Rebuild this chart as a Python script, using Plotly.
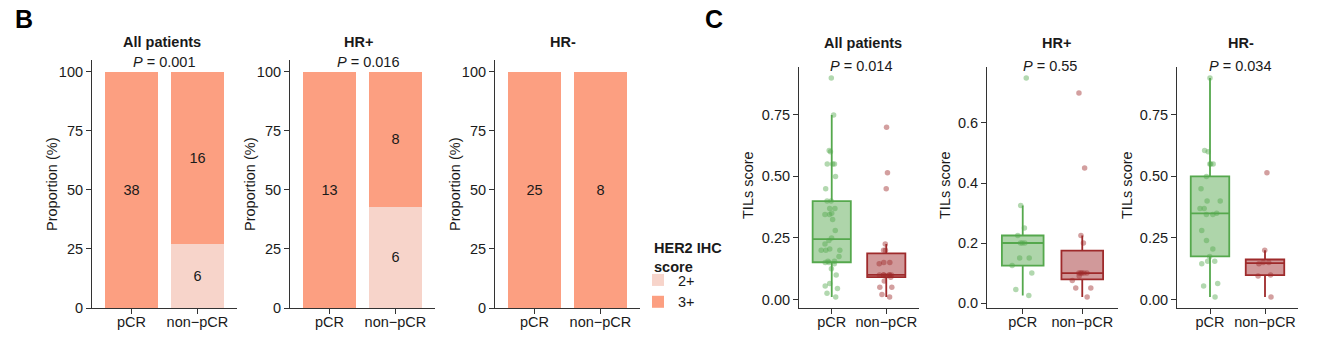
import numpy as np
import plotly.graph_objects as go

W, H = 1327, 340
FONT = "Liberation Sans, Arial, sans-serif"
TXT = "#1a1a1a"
AX = "#333333"

# ---------------- data ----------------
groups = ["pCR", "non\u2212pCR"]
her2_levels = ["2+", "3+"]
panel_names = ["All patients", "HR+", "HR-"]

# Panel B: patient counts per HER2 IHC score (pCR, non-pCR)
all_2plus = [0, 6]
all_3plus = [38, 16]
hrpos_2plus = [0, 6]
hrpos_3plus = [13, 8]
hrneg_2plus = [0, 0]
hrneg_3plus = [25, 8]
bar_pvalues = ["0.001", "0.016", None]

# Panel C: TILs scores
hrpos_pcr = [0.75, 0.325, 0.25, 0.225, 0.20, 0.20, 0.20, 0.15, 0.15, 0.125, 0.10, 0.045, 0.025]
hrpos_nonpcr = [0.70, 0.45, 0.225, 0.20, 0.10, 0.10, 0.10, 0.10, 0.10, 0.09, 0.075, 0.05, 0.05, 0.02]
hrneg_pcr = [0.90, 0.605, 0.60, 0.55, 0.55, 0.55, 0.50, 0.45, 0.40, 0.40, 0.37, 0.37, 0.35,
             0.345, 0.345, 0.28, 0.24, 0.205, 0.175, 0.155, 0.155, 0.145, 0.065, 0.055, 0.01]
hrneg_nonpcr = [0.515, 0.20, 0.15, 0.15, 0.145, 0.10, 0.095, 0.01]
all_pcr = hrpos_pcr + hrneg_pcr
all_nonpcr = hrpos_nonpcr + hrneg_nonpcr
box_pvalues = ["0.014", "0.55", "0.034"]

# ---------------- styles ----------------
col_2plus = "#F7D4CA"
col_3plus = "#FC9F81"
box_line = ["#55A84D", "#9E2A2B"]
box_fill = ["rgba(85,168,77,0.48)", "rgba(158,42,43,0.48)"]
pt_col = ["rgba(85,168,77,0.45)", "rgba(158,42,43,0.45)"]

# layout geometry in pixels
bar_x = [(92, 237), (290, 435), (495, 640)]
box_x = [(799, 919), (987, 1118), (1177, 1298)]
bar_top, box_top, bottom = 60, 67, 308
title_cx = [162, 358, 563, 863, 1056, 1241]
p_cx = [164, 368, None, 861, 1050, 1240]
ytitle_off = [40, 40, 40, 51, 42, 50]


def px_x(p):
    return p / W


def px_y(p):
    return 1 - p / H


fig = go.Figure()

bar_sets = [(all_2plus, all_3plus), (hrpos_2plus, hrpos_3plus), (hrneg_2plus, hrneg_3plus)]
for i, (c2, c3) in enumerate(bar_sets):
    ax = "" if i == 0 else str(i + 1)
    tot = [a + b for a, b in zip(c2, c3)]
    for lvl, cnt, col in [("2+", c2, col_2plus), ("3+", c3, col_3plus)]:
        fig.add_trace(go.Bar(
            x=groups, y=[100 * c / t for c, t in zip(cnt, tot)],
            text=[str(c) if c > 0 else "" for c in cnt],
            textposition="inside", insidetextanchor="middle", textangle=0,
            textfont=dict(size=14.5, color=TXT, family=FONT),
            marker=dict(color=col, line=dict(width=0)), width=0.8,
            name=lvl, legendgroup=lvl, showlegend=(i == 0),
            xaxis="x" + ax, yaxis="y" + ax, hoverinfo="skip"))


def box_stats(v):
    v = np.sort(np.asarray(v, dtype=float))
    q1, med, q3 = np.percentile(v, [25, 50, 75])
    iqr = q3 - q1
    lo = v[v >= q1 - 1.5 * iqr].min()
    hi = v[v <= q3 + 1.5 * iqr].max()
    return q1, med, q3, lo, hi


box_sets = [(all_pcr, all_nonpcr), (hrpos_pcr, hrpos_nonpcr), (hrneg_pcr, hrneg_nonpcr)]
for i, sets in enumerate(box_sets):
    ax = str(i + 4)
    for g, vals in enumerate(sets):
        q1, med, q3, lo, hi = box_stats(vals)
        fig.add_trace(go.Box(
            x=[groups[g]], q1=[q1], median=[med], q3=[q3], lowerfence=[lo], upperfence=[hi],
            width=0.7, whiskerwidth=0, fillcolor=box_fill[g],
            line=dict(color=box_line[g], width=1.8),
            boxpoints=False, showlegend=False, xaxis="x" + ax, yaxis="y" + ax, hoverinfo="skip"))
        fig.add_trace(go.Box(
            x=[groups[g]] * len(vals), y=vals, boxpoints="all", jitter=0.6, pointpos=0,
            width=0.7, whiskerwidth=0, fillcolor="rgba(0,0,0,0)",
            line=dict(width=0, color="rgba(0,0,0,0)"),
            marker=dict(color=pt_col[g], size=5.5, line=dict(width=0)),
            showlegend=False, xaxis="x" + ax, yaxis="y" + ax, hoverinfo="skip"))

axis_common = dict(showline=True, linecolor=AX, linewidth=1.1, ticks="outside", ticklen=5,
                   tickwidth=1.1, tickcolor=AX, showgrid=False, zeroline=False, automargin=False,
                   tickfont=dict(size=14.5, color=TXT, family=FONT))

layout = dict(width=W, height=H, margin=dict(l=0, r=0, t=0, b=0, autoexpand=False),
              paper_bgcolor="white", plot_bgcolor="white",
              barmode="stack", boxmode="overlay",
              font=dict(family=FONT, color=TXT, size=14.5))

annotations = []
all_x = bar_x + box_x
for k in range(6):
    s = "" if k == 0 else str(k + 1)
    l, r = all_x[k]
    top = bar_top if k < 3 else box_top
    layout["xaxis" + s] = dict(axis_common, domain=[px_x(l), px_x(r)], anchor="y" + s,
                               type="category", categoryorder="array", categoryarray=groups,
                               range=[-0.6, 1.6], ticklabelstandoff=-4)
    ydom = [px_y(bottom), px_y(top)]
    if k < 3:
        layout["yaxis" + s] = dict(axis_common, domain=ydom, anchor="x" + s, range=[0, 105],
                                   tickvals=[0, 25, 50, 75, 100])
    else:
        sets = box_sets[k - 3]
        allv = np.array(sets[0] + sets[1])
        rng = allv.max() - allv.min()
        yr = [allv.min() - 0.05 * rng, allv.max() + 0.05 * rng]
        if k == 4:
            tv, tf = [0, 0.2, 0.4, 0.6], ".1f"
        else:
            tv, tf = [0, 0.25, 0.5, 0.75], ".2f"
        layout["yaxis" + s] = dict(axis_common, domain=ydom, anchor="x" + s, range=yr,
                                   tickvals=tv, tickformat=tf)

    # panel title
    title_y = 42 if k < 3 else 43
    annotations.append(dict(text="<b>%s</b>" % panel_names[k % 3], x=px_x(title_cx[k]),
                            y=px_y(title_y), xref="paper", yref="paper", showarrow=False,
                            xanchor="center", yanchor="middle",
                            font=dict(size=14.5, color=TXT, family=FONT)))
    pv = bar_pvalues[k] if k < 3 else box_pvalues[k - 3]
    if pv:
        p_y = 62 if k < 3 else 66
        annotations.append(dict(text="<i>P</i> = %s" % pv, x=px_x(p_cx[k]), y=px_y(p_y),
                                xref="paper", yref="paper", showarrow=False, xanchor="center",
                                yanchor="middle", font=dict(size=14.5, color=TXT, family=FONT)))
    # y-axis title
    ytitle = "Proportion (%)" if k < 3 else "TILs score"
    annotations.append(dict(text=ytitle, x=px_x(l - ytitle_off[k]), y=px_y(185), textangle=-90,
                            xref="paper", yref="paper", showarrow=False, xanchor="center",
                            yanchor="middle", font=dict(size=14.5, color=TXT, family=FONT)))

for lab, xp in [("B", 24), ("C", 714)]:
    annotations.append(dict(text="<b>%s</b>" % lab, x=px_x(xp), y=px_y(19), xref="paper",
                            yref="paper", showarrow=False, xanchor="center", yanchor="middle",
                            font=dict(size=25, color="#000000", family=FONT)))

# legend title
annotations.append(dict(text="<b>HER2 IHC<br>score</b>", x=px_x(652), y=px_y(257),
                        xref="paper", yref="paper", showarrow=False, xanchor="left",
                        yanchor="middle", align="left",
                        font=dict(size=14.5, color=TXT, family=FONT)))

layout["annotations"] = annotations
layout["legend"] = dict(x=px_x(638), y=px_y(264), xanchor="left", yanchor="top",
                        traceorder="normal", bgcolor="rgba(0,0,0,0)",
                        font=dict(size=14.5, color=TXT, family=FONT),
                        itemwidth=30, tracegroupgap=0)
fig.update_layout(**layout)
fig.write_html("out.html")
